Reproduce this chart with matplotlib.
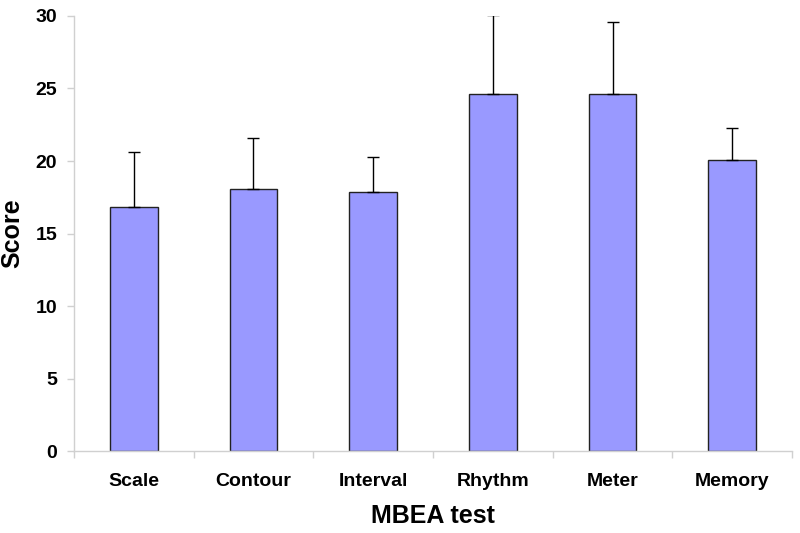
import matplotlib
matplotlib.use("Agg")
from matplotlib import pyplot as plt
from matplotlib import font_manager

tests = ["Scale", "Contour", "Interval", "Rhythm", "Meter", "Memory"]
scores = [16.85, 18.1, 17.85, 24.6, 24.6, 20.05]
errors = [3.8, 3.5, 2.4, 5.5, 5.0, 2.2]

names = {f.name for f in font_manager.fontManager.ttflist}
fam = ["Liberation Sans Narrow", "Liberation Sans", "DejaVu Sans"]
fam = [f for f in fam if f in names] or ["DejaVu Sans"]
plt.rcParams["font.family"] = fam
plt.rcParams["font.weight"] = "bold"

fig = plt.figure(figsize=(8, 5.33), dpi=100)
ax = fig.add_axes([0.0925, 0.1538, 0.8975, 0.8162])

x = list(range(len(tests)))
ax.bar(x, scores, width=0.4, color="#9999ff", edgecolor="#222222", linewidth=1.0, zorder=2)
ax.errorbar(x, scores, yerr=[[0] * len(errors), errors], fmt="none",
            ecolor="black", elinewidth=1.0, capsize=4, capthick=1.0, zorder=3)

ax.set_xlim(-0.5, len(tests) - 0.5)
ax.set_ylim(0, 30)
ax.set_yticks(range(0, 31, 5))
ax.set_xticks(x)
ax.set_xticklabels(tests, fontsize=14, fontweight="bold")
ax.set_xticks([i + 0.5 for i in range(-1, len(tests))], minor=True)
ax.tick_params(axis="x", which="major", length=0, pad=16)
ax.tick_params(axis="x", which="minor", length=5, color="#d0d0d0", width=1)
ax.tick_params(axis="y", length=5, color="#d0d0d0", width=1, labelsize=14, pad=7)
for lab in ax.get_yticklabels():
    lab.set_fontweight("bold")

for s in ["top", "right"]:
    ax.spines[s].set_visible(False)
for s in ["left", "bottom"]:
    ax.spines[s].set_color("#d0d0d0")
    ax.spines[s].set_linewidth(1)

ax.set_xlabel("MBEA test", fontsize=18, fontweight="bold", labelpad=10)
ax.set_ylabel("Score", fontsize=18, fontweight="bold", labelpad=8)

fig.savefig("out.png", dpi=100)
